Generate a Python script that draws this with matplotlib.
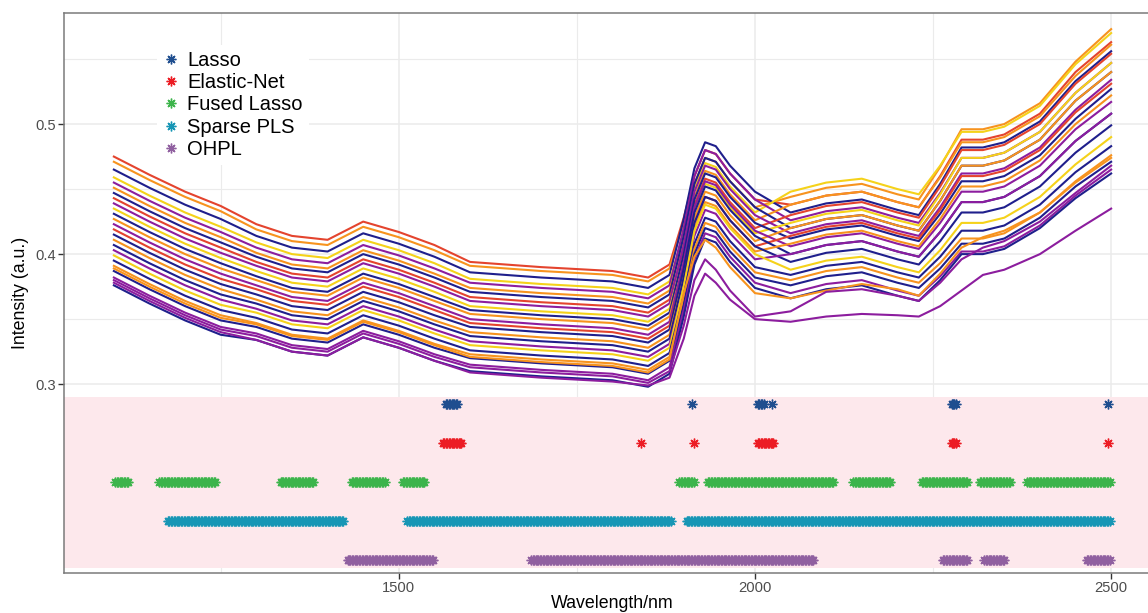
import numpy as np
import matplotlib
matplotlib.use("Agg")
import matplotlib.pyplot as plt
from matplotlib.lines import Line2D

plt.rcParams['font.family'] = ['Liberation Sans', 'DejaVu Sans']

wave = [1100, 1150, 1200, 1250, 1300, 1350, 1400, 1450, 1500, 1550, 1600, 1700, 1800, 1850, 1880,
        1900, 1915, 1930, 1945, 1965, 2000,
        2050, 2100, 2150, 2200, 2230, 2260, 2290, 2320, 2350, 2400, 2450, 2500]

# spectra (intensity, a.u.)
spec01 = [.475, .461, .448, .437, .423, .414, .411, .425, .417, .407, .394, .390, .387, .382, .392, .428, .460, .480, .477, .462, .442, .438, .445, .448, .440, .436, .460, .488, .488, .492, .508, .540, .563]
spec02 = [.471, .457, .444, .433, .419, .410, .407, .421, .413, .403, .391, .387, .384, .379, .389, .424, .454, .474, .471, .456, .436, .444, .451, .454, .446, .442, .467, .496, .496, .500, .516, .548, .573]
spec03 = [.465, .451, .438, .427, .414, .405, .402, .416, .408, .398, .386, .382, .379, .374, .384, .427, .466, .486, .483, .468, .448, .432, .439, .442, .434, .430, .454, .482, .482, .486, .502, .533, .556]
spec04 = [.459, .445, .432, .421, .409, .400, .397, .411, .403, .393, .381, .377, .374, .369, .379, .416, .450, .470, .467, .452, .432, .448, .455, .458, .450, .446, .468, .494, .494, .498, .514, .546, .570]
spec05 = [.455, .441, .428, .417, .405, .396, .393, .407, .399, .389, .378, .374, .371, .366, .376, .420, .460, .480, .477, .462, .442, .426, .433, .436, .428, .424, .447, .474, .474, .478, .494, .524, .547]
spec06 = [.451, .437, .424, .413, .401, .392, .389, .403, .395, .385, .374, .370, .367, .362, .372, .410, .444, .464, .461, .446, .426, .438, .445, .448, .440, .436, .459, .486, .486, .490, .506, .537, .561]
spec07 = [.447, .433, .420, .409, .398, .389, .386, .400, .392, .382, .371, .367, .364, .359, .369, .414, .454, .474, .471, .456, .436, .420, .427, .430, .422, .418, .441, .468, .468, .472, .488, .518, .540]
spec08 = [.443, .429, .416, .405, .394, .385, .382, .396, .388, .378, .367, .363, .360, .355, .365, .404, .438, .458, .455, .440, .420, .430, .437, .440, .432, .428, .452, .480, .480, .484, .500, .531, .554]
spec09 = [.439, .425, .412, .401, .391, .382, .379, .393, .385, .375, .364, .360, .357, .352, .362, .407, .448, .468, .465, .450, .430, .416, .423, .426, .418, .414, .436, .462, .462, .466, .482, .511, .534]
spec10 = [.435, .421, .408, .397, .387, .378, .375, .389, .381, .371, .360, .356, .353, .348, .358, .398, .434, .454, .451, .436, .416, .424, .431, .434, .426, .422, .446, .474, .474, .478, .494, .524, .547]
spec11 = [.431, .417, .404, .393, .383, .374, .371, .385, .377, .367, .357, .353, .350, .345, .355, .400, .442, .462, .459, .444, .424, .412, .419, .422, .414, .410, .431, .456, .456, .460, .476, .504, .527]
spec12 = [.427, .413, .400, .389, .380, .371, .368, .382, .374, .364, .354, .350, .347, .342, .352, .392, .428, .448, .445, .430, .410, .420, .427, .430, .422, .418, .441, .468, .468, .472, .488, .518, .540]
spec13 = [.423, .409, .396, .385, .376, .367, .364, .378, .370, .360, .350, .346, .343, .338, .348, .394, .436, .456, .453, .438, .418, .406, .413, .416, .408, .404, .424, .448, .448, .452, .468, .496, .517]
spec14 = [.419, .405, .392, .381, .373, .364, .361, .375, .367, .357, .347, .343, .340, .335, .345, .386, .424, .444, .441, .426, .406, .414, .421, .424, .416, .412, .434, .460, .460, .464, .480, .509, .531]
spec15 = [.415, .401, .388, .377, .369, .360, .357, .371, .363, .353, .344, .340, .337, .332, .342, .389, .432, .452, .449, .434, .414, .400, .407, .410, .402, .398, .417, .440, .440, .444, .460, .487, .508]
spec16 = [.411, .397, .384, .373, .365, .356, .353, .367, .359, .349, .340, .336, .333, .328, .338, .381, .420, .440, .437, .422, .402, .408, .415, .418, .410, .406, .427, .452, .452, .456, .472, .500, .522]
spec17 = [.407, .393, .380, .369, .362, .353, .350, .364, .356, .346, .337, .333, .330, .325, .335, .382, .424, .444, .441, .426, .406, .394, .401, .404, .396, .392, .410, .432, .432, .436, .452, .478, .499]
spec18 = [.403, .389, .376, .365, .358, .349, .346, .360, .352, .342, .333, .329, .326, .321, .331, .374, .414, .434, .431, .416, .396, .400, .407, .410, .402, .398, .417, .440, .440, .444, .460, .487, .508]
spec19 = [.399, .385, .372, .361, .355, .346, .343, .357, .349, .339, .330, .326, .323, .318, .328, .375, .418, .438, .435, .420, .400, .388, .395, .398, .390, .386, .403, .424, .424, .428, .444, .469, .490]
spec20 = [.395, .381, .368, .357, .351, .342, .339, .353, .345, .335, .326, .322, .319, .314, .324, .368, .408, .428, .425, .410, .390, .384, .391, .394, .386, .382, .398, .418, .418, .422, .438, .463, .483]
spec21 = [.391, .377, .364, .353, .347, .338, .335, .349, .341, .331, .323, .319, .316, .311, .321, .364, .404, .424, .421, .406, .386, .380, .387, .390, .382, .378, .393, .412, .412, .416, .432, .456, .476]
spec22 = [.387, .373, .360, .349, .344, .335, .332, .346, .338, .328, .320, .316, .313, .308, .318, .361, .400, .420, .417, .402, .382, .376, .383, .386, .378, .374, .389, .408, .408, .412, .428, .452, .471]
spec23 = [.382, .368, .355, .344, .339, .330, .327, .341, .333, .323, .315, .311, .308, .303, .313, .357, .396, .416, .413, .398, .378, .370, .377, .380, .372, .368, .383, .402, .402, .406, .422, .445, .465]
spec24 = [.376, .362, .349, .338, .334, .325, .322, .336, .328, .318, .310, .306, .303, .298, .308, .352, .392, .412, .409, .394, .374, .366, .373, .376, .368, .364, .380, .400, .400, .404, .420, .443, .462]
spec25 = [.389, .375, .362, .351, .346, .337, .334, .348, .340, .330, .321, .317, .314, .309, .319, .370, .398, .411, .405, .390, .370, .366, .372, .377, .373, .368, .385, .405, .413, .418, .432, .455, .474]
spec26 = [.380, .366, .353, .342, .337, .328, .325, .339, .331, .321, .313, .309, .306, .301, .310, .345, .380, .396, .388, .372, .352, .356, .371, .373, .368, .364, .378, .396, .405, .410, .425, .447, .468]
spec27 = [.378, .364, .351, .340, .334, .325, .322, .336, .328, .318, .309, .305, .302, .299, .305, .335, .368, .385, .378, .365, .350, .348, .352, .354, .353, .352, .360, .372, .384, .388, .400, .418, .435]

spectra = [spec01, spec02, spec03, spec04, spec05, spec06, spec07, spec08, spec09,
           spec10, spec11, spec12, spec13, spec14, spec15, spec16, spec17, spec18,
           spec19, spec20, spec21, spec22, spec23, spec24, spec25, spec26, spec27]

NAVY, PURP, RED, ORG, YEL = '#1f1f8c', '#8c1d9e', '#e4442e', '#f7931e', '#f5d21a'
line_colors = [RED, ORG, NAVY, YEL, PURP, ORG, NAVY, RED, PURP, YEL, NAVY, ORG, PURP, RED,
               NAVY, ORG, NAVY, PURP, YEL, NAVY, ORG, NAVY, PURP, NAVY, ORG, PURP, PURP]

# selected wavelength ranges per method (nm, 2 nm grid)
methods = ['Lasso', 'Elastic-Net', 'Fused Lasso', 'Sparse PLS', 'OHPL']
method_colors = ['#1f4e8f', '#ec1c24', '#3cb44b', '#1796b5', '#9060a0']
method_level = [0.285, 0.255, 0.225, 0.195, 0.165]
sel_lasso = [(1566, 1582), (1912, 1912), (2004, 2012), (2024, 2024), (2276, 2282), (2496, 2496)]
sel_enet = [(1562, 1588), (1840, 1840), (1914, 1914), (2004, 2026), (2276, 2282), (2496, 2496)]
sel_fused = [(1102, 1120), (1164, 1242), (1334, 1380), (1434, 1480), (1506, 1536), (1894, 1914),
             (1934, 2110), (2138, 2190), (2234, 2298), (2316, 2358), (2382, 2498)]
sel_spls = [(1176, 1422), (1512, 1882), (1904, 2498)]
sel_ohpl = [(1428, 1548), (1686, 2082), (2264, 2298), (2322, 2350), (2466, 2498)]
selections = [sel_lasso, sel_enet, sel_fused, sel_spls, sel_ohpl]

star = (8, 2, 0)

fig = plt.figure(figsize=(11.48, 6.13), dpi=100)
ax = fig.add_axes([64 / 1148, 1 - 573 / 613, 1097 / 1148, 560 / 613])

ax.axhspan(0.1587, 0.2902, color='#fde8ec', lw=0, zorder=1)

for s, c in zip(spectra, line_colors):
    ax.plot(wave, s, color=c, lw=1.5, zorder=2)

handles = []
for name, col, lev, sel in zip(methods, method_colors, method_level, selections):
    xs = np.concatenate([np.arange(a, b + 1, 2) for a, b in sel])
    ax.plot(xs, np.full(len(xs), lev), ls='none', marker=star, ms=7, mew=1.0, color=col, zorder=3)
    handles.append(Line2D([], [], ls='none', marker=star, ms=7, mew=1.0, color=col, label=name))

ax.set_xlim(1030, 2570)
ax.set_ylim(0.1548, 0.5854)
ax.set_xticks([1500, 2000, 2500])
ax.set_xticks([1250, 1750, 2250], minor=True)
ax.set_yticks([0.3, 0.4, 0.5])
ax.set_yticks([0.35, 0.45, 0.55], minor=True)
ax.set_axisbelow(True)
ax.grid(which='major', color='#ebebeb', lw=1.1)
ax.grid(which='minor', color='#ebebeb', lw=0.8)
ax.tick_params(which='major', direction='out', length=4, width=1, color='#333333',
               labelcolor='#4d4d4d', labelsize=10.6, pad=2)
ax.tick_params(which='minor', length=0)
for side in ['left', 'bottom', 'top']:
    ax.spines[side].set_color('#7a7a7a')
    ax.spines[side].set_linewidth(1.1)
ax.spines['right'].set_visible(False)

ax.set_xlabel('Wavelength/nm', fontsize=12.8)
ax.set_ylabel('Intensity (a.u.)', fontsize=12.8)
ax.xaxis.set_label_coords(0.5, -0.04)
ax.yaxis.set_label_coords(-0.032, 0.5)

leg = ax.legend(handles=handles, loc='upper left', bbox_to_anchor=(157 / 1148, 1 - 45 / 613),
                bbox_transform=fig.transFigure, fontsize=14.5, frameon=True, fancybox=False,
                edgecolor='none', facecolor='white', framealpha=1, labelspacing=0.16,
                handlelength=0.8, handletextpad=0.4, borderpad=0.3, borderaxespad=0)

fig.savefig('out.png', dpi=100)
